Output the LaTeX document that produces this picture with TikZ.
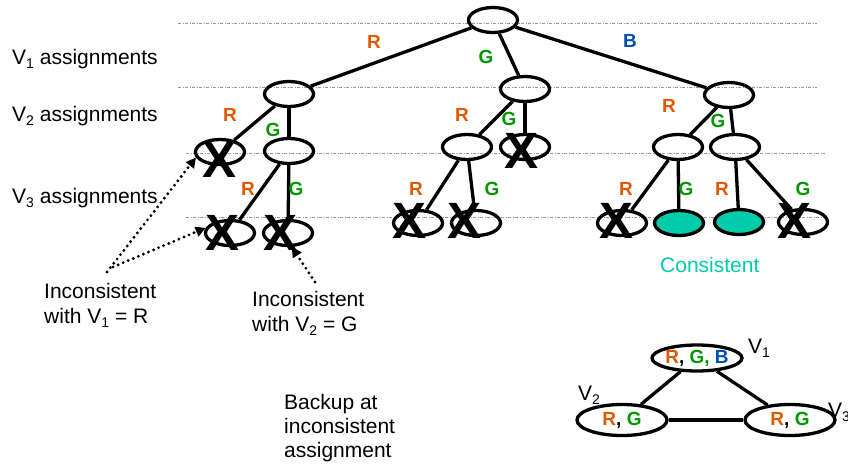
\documentclass[tikz,border=0pt]{standalone}
\usepackage{fontspec}
\setmainfont{Liberation Sans}
\usetikzlibrary{arrows.meta,shapes.geometric}
\definecolor{cR}{RGB}{224,90,0}
\definecolor{cG}{RGB}{0,150,0}
\definecolor{cB}{RGB}{0,80,180}
\definecolor{cons}{RGB}{0,204,170}
\definecolor{guidegray}{RGB}{150,150,150}
\newcommand\sbx[1]{\raisebox{-4pt}{\fontsize{14}{14}\selectfont #1}}
\begin{document}
\begin{tikzpicture}[x=1pt,y=-1pt,
  st/.style={draw, ellipse, line width=3.3pt, minimum width=49, minimum height=25, inner sep=0},
  okst/.style={st, fill=cons},
  tedge/.style={line width=3.3pt},
  guide/.style={guidegray, line width=0.8pt, dash pattern=on 3pt off 1.5pt on 1pt off 1.5pt},
  lab/.style={font=\fontsize{19}{19}\selectfont\bfseries, inner sep=0},
  labR/.style={lab, text=cR},
  labG/.style={lab, text=cG},
  labB/.style={lab, text=cB},
  xmark/.style={font=\fontsize{51}{51}\selectfont\bfseries, inner sep=0},
  txt/.style={font=\fontsize{21}{25}\selectfont, inner sep=0, anchor=base west, align=left},
  pointer/.style={line width=3.2pt, dash pattern=on 0pt off 5.5pt, line cap=round, -{Triangle[length=10pt,width=10pt]}},
  tnode/.style={draw, ellipse, line width=3.3pt, inner sep=0, font=\fontsize{19}{19}\selectfont\bfseries}
]
\useasboundingbox (0,0) rectangle (848,464);

% guide lines
\draw[guide] (178,23) -- (817,23);
\draw[guide] (178,87) -- (817,87);
\draw[guide] (186,153) -- (825,153);
\draw[guide] (186,217) -- (825,217);

% left labels
\node[txt] (l1) at (12,64) {V\sbx{1} assignments};
\node[txt] (l2) at (12,121) {V\sbx{2} assignments};
\node[txt] (l3) at (12,203) {V\sbx{3} assignments};

% tree nodes
\node[st] (root) at (493,20) {};
\node[st] (a) at (289,94) {};
\node[st] (b) at (525,89) {};
\node[st] (c) at (729,95) {};
\node[st] (aa) at (220,152) {};
\node[st] (ab) at (289,151) {};
\node[st] (ba) at (467,147) {};
\node[st] (bb) at (525,147) {};
\node[st] (ca) at (678,147) {};
\node[st] (cb) at (735,147) {};
\node[st] (aba) at (230,233) {};
\node[st] (abb) at (288,233) {};
\node[st] (baa) at (418,223) {};
\node[st] (bab) at (476,223) {};
\node[st] (caa) at (622,223) {};
\node[okst] (cab) at (679,223) {};
\node[okst] (cba) at (739,222) {};
\node[st] (cbb) at (803,222) {};

% tree edges
\draw[tedge] (root) -- (a);
\draw[tedge] (root) -- (b);
\draw[tedge] (root) -- (c);
\draw[tedge] (a) -- (aa);
\draw[tedge] (a) -- (ab);
\draw[tedge] (b) -- (ba);
\draw[tedge] (b) -- (bb);
\draw[tedge] (c) -- (ca);
\draw[tedge] (c) -- (cb);
\draw[tedge] (ab) -- (aba);
\draw[tedge] (ab) -- (abb);
\draw[tedge] (ba) -- (baa);
\draw[tedge] (ba) -- (bab);
\draw[tedge] (ca) -- (caa);
\draw[tedge] (ca) -- (cab);
\draw[tedge] (cb) -- (cba);
\draw[tedge] (cb) -- (cbb);

% edge labels
\node[labR] (e1) at (374,42) {R};
\node[labG] (e2) at (486,57) {G};
\node[labB] (e3) at (630,41) {B};
\node[labR] (e4) at (230,115) {R};
\node[labG] (e5) at (273,130) {G};
\node[labR] (e6) at (462,115) {R};
\node[labG] (e7) at (509,119) {G};
\node[labR] (e8) at (669,106) {R};
\node[labG] (e9) at (718,121) {G};
\node[labR] (e10) at (248,189) {R};
\node[labG] (e11) at (296,189) {G};
\node[labR] (e12) at (416,189) {R};
\node[labG] (e13) at (492,189) {G};
\node[labR] (e14) at (626,189) {R};
\node[labG] (e15) at (686,189) {G};
\node[labR] (e16) at (722,189) {R};
\node[labG] (e17) at (803,189) {G};

% X marks
\node[xmark] (x1) at (220,160) {X};
\node[xmark] (x2) at (522,151) {X};
\node[xmark] (x3) at (223,233) {X};
\node[xmark] (x4) at (281,233) {X};
\node[xmark] (x5) at (410,221) {X};
\node[xmark] (x6) at (465,221) {X};
\node[xmark] (x7) at (616,221) {X};
\node[xmark] (x8) at (794,221) {X};

% texts
\node[txt, text=cons] (cst) at (660,272) {Consistent};
\node[txt] (inc1) at (44,323) {Inconsistent\\with V\sbx{1} = R};
\node[txt] (inc2) at (252,331) {Inconsistent\\with V\sbx{2} = G};
\node[txt, font=\fontsize{21}{24}\selectfont] (bk) at (284,457) {Backup at\\inconsistent\\assignment};

% pointers
\coordinate (pa) at (107,272);
\coordinate (pb) at (113,267);
\coordinate (pc) at (315,282);
\draw[pointer] (pa) -- (aa.193);
\draw[pointer] (pb) -- (aba.168);
\draw[pointer] (pc) -- (abb.-75);

% constraint graph
\node[tnode, minimum width=90, minimum height=26] (v1) at (697,358) {\textcolor{cR}{R}, \textcolor{cG}{G, }\textcolor{cB}{B}};
\node[tnode, minimum width=90, minimum height=31] (v2) at (622,420) {\textcolor{cR}{R}, \textcolor{cG}{G}};
\node[tnode, minimum width=90, minimum height=31] (v3) at (790,420) {\textcolor{cR}{R}, \textcolor{cG}{G}};
\draw[tedge] (v1) -- (v2);
\draw[tedge] (v1) -- (v3);
\draw[tedge] (v2) -- (v3);
\node[txt] (n1) at (748,353) {V\sbx{1}};
\node[txt] (n2) at (578,400) {V\sbx{2}};
\node[txt] (n3) at (828,417) {V\sbx{3}};
\end{tikzpicture}
\end{document}
